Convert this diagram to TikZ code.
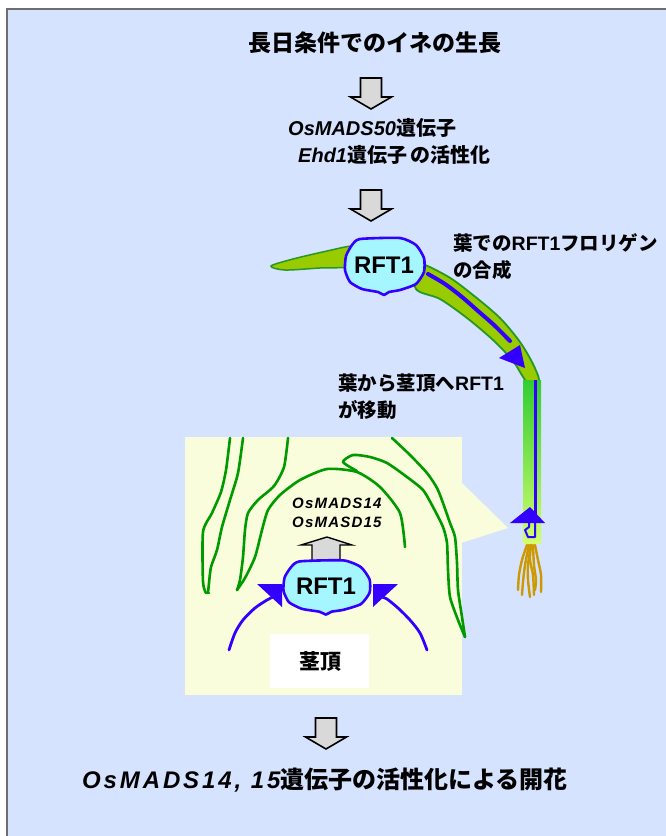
\documentclass[tikz,border=0pt]{standalone}
\usepackage{fontspec}
\setmainfont{Liberation Sans}
\newfontfamily\jp{Noto Sans CJK JP}
\newfontfamily\lsp{Liberation Sans}[LetterSpace=8]
\newfontfamily\lspw{Liberation Sans}[LetterSpace=12]
\newcommand\J[1]{{\jp\bfseries\upshape #1}}
\definecolor{bgblue}{RGB}{214,227,255}
\definecolor{bordergray}{RGB}{110,110,110}
\definecolor{insety}{RGB}{249,253,220}
\definecolor{leafg}{RGB}{153,204,0}
\definecolor{leafd}{RGB}{40,150,40}
\definecolor{grn}{RGB}{0,153,0}
\definecolor{blu}{RGB}{51,0,255}
\definecolor{cyanf}{RGB}{166,246,255}
\definecolor{gold}{RGB}{204,153,0}
\definecolor{agray}{RGB}{217,217,217}
\definecolor{stemtop}{RGB}{50,205,50}
\definecolor{stembot}{RGB}{210,255,110}
\tikzset{
  lbl/.style={inner sep=0pt},
  blockarrow/.style={fill=agray, draw=black, line width=1.6pt, line join=miter},
  blobstyle/.style={fill=cyanf, draw=blu, line width=2.6pt, line join=round},
  greenline/.style={draw=grn, line width=2.6pt, line cap=round, line join=round},
  blueline/.style={draw=blu, line width=2.8pt, line cap=round, line join=round},
  rootline/.style={draw=gold, line width=2.4pt, line cap=round},
  downarrow/.pic={\draw[blockarrow] (-10.5,0) -- (10.5,0) -- (10.5,19) -- (20.5,19) -- (0,31) -- (-20.5,19) -- (-10.5,19) -- cycle;},
  blob/.pic={\draw[blobstyle] plot[smooth cycle, tension=0.35] coordinates {(-24,-27) (16,-28) (32,-21) (40,-8) (40,6) (32,18) (16,24) (5,26) (0,29) (-6,26) (-22,23) (-34,16) (-39,4) (-38,-10) (-32,-21)};}
}
\begin{document}
\begin{tikzpicture}[x=1pt,y=-1pt]
\useasboundingbox (0,0) rectangle (666,836);
\fill[white] (0,0) rectangle (666,836);
\fill[bgblue] (7,9) rectangle (666,836);
\draw[bordergray, line width=1.2pt] (7,836) -- (7,9) -- (666,9);

% title and first steps
\node[lbl, font=\fontsize{23}{27}\selectfont\bfseries] (title) at (375,43) {\J{長日条件でのイネの生長}};
\pic at (371,78) {downarrow};
\node[lbl, anchor=west, font=\fontsize{20}{24}\selectfont\bfseries\itshape] (os50) at (288,128) {OsMADS50\J{遺伝子}};
\node[lbl, anchor=west, font=\fontsize{20}{24}\selectfont\bfseries\itshape] (ehd1) at (298,155) {Ehd1\J{遺伝子\,の活性化}};
\pic at (371,190) {downarrow};

% upper leaf
\filldraw[fill=leafg, draw=leafd, line width=1.5pt] plot[smooth cycle, tension=0.5] coordinates {(271,266) (293,259) (327,251) (352,246) (362,250) (355,266) (320,268) (285,270)};
\filldraw[fill=leafg, draw=leafd, line width=1.8pt] plot[smooth cycle, tension=0.5] coordinates {(416,263) (447,276) (473,295) (500,318) (520,342) (533,364) (539,381) (527,382) (513,361) (493,340) (467,318) (440,299) (416,289)};
\draw[blu, line width=4pt, line cap=round] plot[smooth, tension=0.5] coordinates {(428,274) (445,284) (462,297) (478,311) (494,325) (510,341)};
\fill[blu] (525,368) -- (499,358) -- (520,345) -- cycle;

% stem
\shade[top color=stemtop, bottom color=stembot] (523,380) rectangle (541,543);
\draw[blu, line width=3pt] (535,380) -- (535,518);
\fill[blu] (510,523) -- (545,523) -- (530,507) -- cycle;
\draw[blu, line width=2pt, line join=round] (535,523) -- (535,537) -- (528,537) -- (525,530) -- (529,527) -- (529,523);
% roots
\draw[rootline] plot[smooth] coordinates {(527,545) (522,560) (519,575) (518,590)};
\draw[rootline] plot[smooth] coordinates {(529,545) (525,565) (523,582) (522,595)};
\draw[rootline] plot[smooth] coordinates {(531,545) (528,565) (528,580) (530,597)};
\draw[rootline] plot[smooth] coordinates {(531,545) (530,560) (533,575) (534,595)};
\draw[rootline] plot[smooth] coordinates {(533,545) (534,565) (536,580) (535,590)};
\draw[rootline] plot[smooth] coordinates {(535,545) (538,560) (541,575) (541,592)};

% upper RFT1
\pic at (384,266) {blob};
\node[lbl, font=\fontsize{24}{28}\selectfont\bfseries] (rftleaf) at (384,265) {RFT1};

\node[lbl, anchor=west, font=\fontsize{19.5}{23}\selectfont\bfseries] (synth1) at (453,243) {\J{葉での}RFT1\J{フロリゲン}};
\node[lbl, anchor=west, font=\fontsize{19.5}{23}\selectfont\bfseries] (synth2) at (453,270) {\J{の合成}};
\node[lbl, anchor=west, font=\fontsize{19.5}{23}\selectfont\bfseries] (move1) at (338,383) {\J{葉から茎頂へ}RFT1};
\node[lbl, anchor=west, font=\fontsize{19.5}{23}\selectfont\bfseries] (move2) at (338,410) {\J{が移動}};

% inset
\fill[insety] (185,437) rectangle (462,695);
\fill[insety] (461,482) -- (508,528) -- (461,543) -- cycle;
\draw[greenline] plot[smooth, tension=0.4] coordinates {(230,438) (226,470) (221,492) (212,513) (203,532) (203,582) (206,593)};
\draw[greenline] plot[smooth, tension=0.4] coordinates {(243,438) (238,473) (230,500) (222,527) (217,550) (211,567) (209,583) (208,593)};
\draw[greenline] (206,593) -- (209,593);
\draw[greenline] plot[smooth, tension=0.4] coordinates {(288,438) (284,467) (274,486) (258,500) (248,513) (245,530) (243,557) (240,580) (237,590)};
\draw[greenline] plot[smooth, tension=0.4] coordinates {(237,590) (245,578) (255,557) (262,530) (268,510) (280,495) (300,480) (327,469) (357,472) (380,487) (400,513) (405,547)};
\draw[greenline] plot[smooth, tension=0.4] coordinates {(392,438) (410,455) (427,473) (437,488) (443,503) (450,523) (455,537) (457,563) (458,590) (462,617) (465,637)};
\draw[greenline] plot[smooth, tension=0.4] coordinates {(357,471) (343,462) (353,455) (370,457) (387,463) (407,477) (423,490) (433,507) (443,527) (447,543) (448,570) (450,597) (458,620) (465,637)};

\node[fill=white, minimum width=99pt, minimum height=54pt, inner sep=0pt] (apexbox) at (319.5,661) {};
\node[lbl, font=\fontsize{21}{25}\selectfont\bfseries] (apex) at (320,662) {\J{茎頂}};

\node[lbl, anchor=west, font=\fontsize{15}{18}\selectfont\lsp\bfseries\itshape] (m14) at (292,503) {OsMADS14};
\node[lbl, anchor=west, font=\fontsize{15}{18}\selectfont\lsp\bfseries\itshape] (m15) at (292,522) {OsMASD15};

\draw[blockarrow, line width=1.4pt] (312,561) -- (312,545) -- (301,545) -- (327,537) -- (352,545) -- (340,545) -- (340,561);

\draw[blueline] plot[smooth, tension=0.5] coordinates {(229,650) (235,633) (243,620) (255,608) (267,600) (273,597)};
\fill[blu] (257,584) -- (282,584) -- (282,607) -- cycle;
\draw[blueline] plot[smooth, tension=0.5] coordinates {(427,650) (420,633) (410,620) (398,608) (387,599) (382,597)};
\fill[blu] (373,584) -- (398,584) -- (373,607) -- cycle;

\pic[xscale=1.09, yscale=0.95] at (326,587) {blob};
\node[lbl, font=\fontsize{24}{28}\selectfont\bfseries] (rftapex) at (326,586) {RFT1};

% final step
\pic at (326,718) {downarrow};
\node[lbl, anchor=west, font=\fontsize{24}{28}\selectfont\lspw\bfseries\itshape] (flower) at (82,780) {OsMADS14, 15\J{遺伝子の活性化による開花}};
\end{tikzpicture}
\end{document}
